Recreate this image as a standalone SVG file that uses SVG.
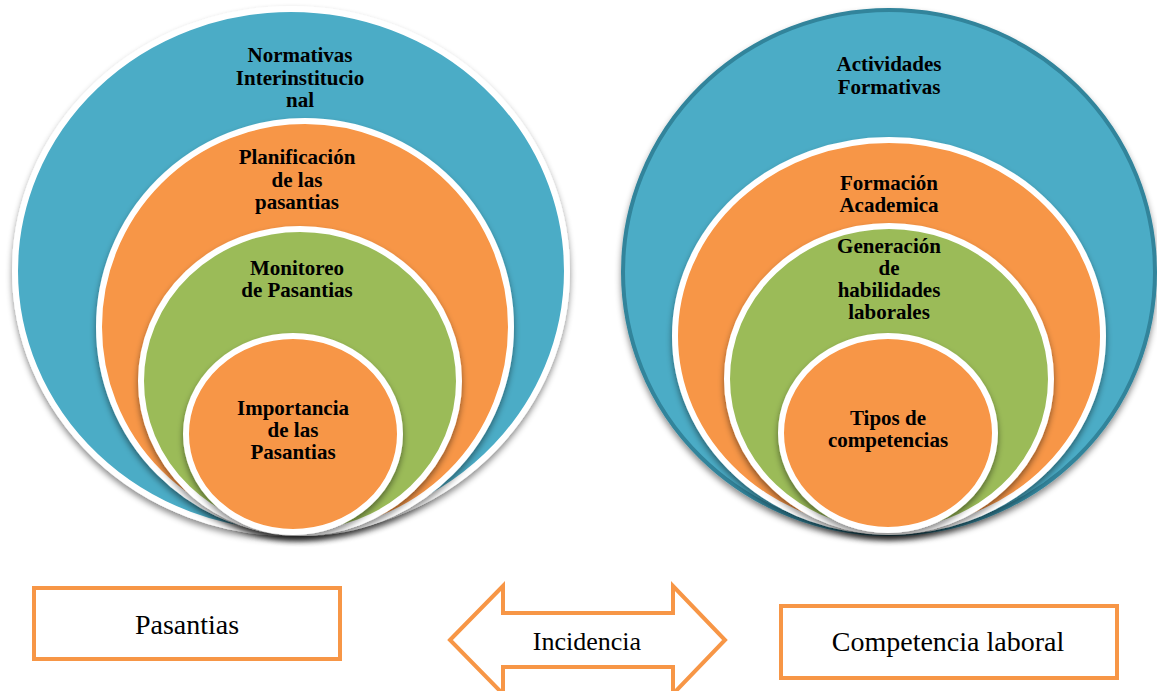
<svg xmlns="http://www.w3.org/2000/svg" width="1157" height="691" viewBox="0 0 1157 691">
<defs>
<filter id="sh" x="-10%" y="-10%" width="120%" height="125%">
<feDropShadow dx="0" dy="4" stdDeviation="3" flood-color="#000" flood-opacity="0.45"/>
</filter>
</defs>
<style>
.blue{fill:#4BACC6}
.org{fill:#F79646}
.grn{fill:#9BBB59}
.ring{stroke:#fff;stroke-width:6;filter:url(#sh)}
.teal{stroke:#31849B;stroke-width:4;filter:url(#sh)}
.lbl{font-weight:bold;font-size:21px;fill:#000;text-anchor:middle}
.box{fill:#fff;stroke:#F79646;stroke-width:4}
.btx{font-size:28px;fill:#000;text-anchor:middle}
</style>
<g font-family="Liberation Serif, Times New Roman, DejaVu Serif, serif">
<g id="left-outer">
<ellipse class="blue ring" cx="291" cy="271" rx="276" ry="262"/>
<text class="lbl" x="300" y="62">Normativas</text>
<text class="lbl" x="300" y="85">Interinstitucio</text>
<text class="lbl" x="300" y="107">nal</text>
</g>
<g id="left-plan">
<ellipse class="org ring" cx="305" cy="327" rx="206" ry="206"/>
<text class="lbl" x="297" y="164">Planificación</text>
<text class="lbl" x="297" y="187">de las</text>
<text class="lbl" x="297" y="209">pasantias</text>
</g>
<g id="left-mon">
<ellipse class="grn ring" cx="300" cy="381" rx="159" ry="152"/>
<text class="lbl" x="297" y="275">Monitoreo</text>
<text class="lbl" x="297" y="297">de Pasantias</text>
</g>
<g id="left-imp">
<ellipse class="org ring" cx="293" cy="434" rx="107" ry="98"/>
<text class="lbl" x="293" y="415">Importancia</text>
<text class="lbl" x="293" y="437">de las</text>
<text class="lbl" x="293" y="459">Pasantias</text>
</g>
<g id="right-outer">
<ellipse class="blue teal" cx="889" cy="272" rx="266" ry="262"/>
<text class="lbl" x="889" y="71">Actividades</text>
<text class="lbl" x="889" y="94">Formativas</text>
</g>
<g id="right-form">
<ellipse class="org ring" cx="889" cy="336" rx="214" ry="196"/>
<text class="lbl" x="889" y="190">Formación</text>
<text class="lbl" x="889" y="212">Academica</text>
</g>
<g id="right-gen">
<ellipse class="grn ring" cx="889" cy="379" rx="162" ry="153"/>
<text class="lbl" x="889" y="253">Generación</text>
<text class="lbl" x="889" y="275">de</text>
<text class="lbl" x="889" y="297">habilidades</text>
<text class="lbl" x="889" y="319">laborales</text>
</g>
<g id="right-tipos">
<ellipse class="org ring" cx="888" cy="433" rx="107" ry="97"/>
<text class="lbl" x="888" y="425">Tipos de</text>
<text class="lbl" x="888" y="447">competencias</text>
</g>
<g id="pasantias">
<rect class="box" x="34" y="588" width="306" height="71"/>
<text class="btx" x="187" y="634">Pasantias</text>
</g>
<g id="competencia">
<rect class="box" x="781" y="606" width="336" height="72"/>
<text class="btx" x="948" y="651">Competencia laboral</text>
</g>
<g id="connectors">
<polygon points="450,640 503,586 503,613 673,613 673,586 725,640 673,694 673,667 503,667 503,694" fill="#fff" stroke="#F79646" stroke-width="4" stroke-linejoin="miter"/>
<text class="btx" x="587" y="650" style="font-size:26px">Incidencia</text>
</g>
</g>
</svg>
